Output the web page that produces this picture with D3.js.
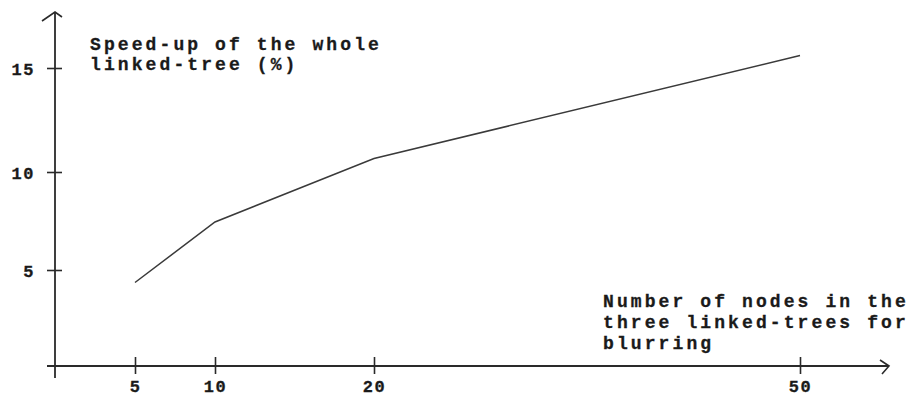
<!DOCTYPE html>
<html>
<head>
<meta charset="utf-8">
<script src="https://cdn.jsdelivr.net/npm/d3@7/dist/d3.min.js"></script>
<style>
  html, body { margin: 0; padding: 0; background: #fff; }
  svg { display: block; }
  text { font-family: "Liberation Mono", "DejaVu Sans Mono", monospace; font-weight: bold; fill: #1a1a1a; }
</style>
</head>
<body>
<svg id="chart" width="916" height="397"></svg>
<script>
// ---- data ----
const nodes = [5, 10, 20, 50];
const speedup = [4.35, 7.45, 10.65, 15.6];
const xTicks = [5, 10, 20, 50];
const yTicks = [5, 10, 15];
const yTitle = ["Speed-up of the whole", "linked-tree (%)"];
const xTitle = ["Number of nodes in the", "three linked-trees for", "blurring"];

const svg = d3.select("#chart");

// non-uniform scales as in the original hand-drawn figure
const x = d3.scaleLinear().domain([0, 5, 10, 20, 50]).range([55, 135, 215, 374, 800]);
const y = d3.scaleLinear().domain([0, 5, 10, 15]).range([366, 270, 172, 68]);

const ink = "#2a2a2a";

// axis lines
svg.append("line").attr("x1", 55).attr("x2", 55).attr("y1", 12).attr("y2", 378)
  .attr("stroke", ink).attr("stroke-width", 1.8);
svg.append("line").attr("x1", 47).attr("x2", 888).attr("y1", 366).attr("y2", 366)
  .attr("stroke", ink).attr("stroke-width", 1.8);
// arrow heads
svg.append("polyline").attr("points", "42,21 55,12 62,17").attr("fill", "none")
  .attr("stroke", ink).attr("stroke-width", 1.6);
svg.append("polyline").attr("points", "880,360 889,366 882,374").attr("fill", "none")
  .attr("stroke", ink).attr("stroke-width", 1.6);

// x axis ticks + labels
const gx = svg.append("g").attr("transform", "translate(0,366)")
  .call(d3.axisBottom(x).tickValues(xTicks).tickSize(8).tickPadding(0));
gx.select(".domain").remove();
gx.selectAll(".tick line").attr("y1", -9).attr("y2", 8).attr("stroke", ink).attr("stroke-width", 1.6);
gx.selectAll(".tick text").attr("y", 26).attr("dy", 0)
  .style("font-size", "17px").style("letter-spacing", "1.5px")
  .attr("fill", "#1a1a1a").attr("stroke", "#1a1a1a").attr("stroke-width", 0.3);

// y axis ticks + labels
const gy = svg.append("g").attr("transform", "translate(55,0)")
  .call(d3.axisLeft(y).tickValues(yTicks).tickSize(8));
gy.select(".domain").remove();
gy.selectAll(".tick line").attr("x1", -8).attr("x2", 7).attr("stroke", ink).attr("stroke-width", 1.6);
gy.selectAll(".tick text").attr("x", -20).attr("dy", "0.36em")
  .style("font-size", "17px").style("letter-spacing", "1.5px")
  .attr("fill", "#1a1a1a").attr("stroke", "#1a1a1a").attr("stroke-width", 0.3);

// data line
const line = d3.line().x((d, i) => x(nodes[i])).y(d => y(d));
svg.append("path").datum(speedup).attr("d", line)
  .attr("fill", "none").attr("stroke", "#3a3a3a").attr("stroke-width", 1.5);

// axis titles
svg.append("g").selectAll("text").data(yTitle).join("text")
  .attr("x", 90).attr("y", (d, i) => 50 + i * 20)
  .style("font-size", "18px").style("letter-spacing", "3.1px")
  .attr("stroke", "#1a1a1a").attr("stroke-width", 0.3)
  .text(d => d);
svg.append("g").selectAll("text").data(xTitle).join("text")
  .attr("x", 603).attr("y", (d, i) => 307 + i * 21)
  .style("font-size", "18px").style("letter-spacing", "3.1px")
  .attr("stroke", "#1a1a1a").attr("stroke-width", 0.3)
  .text(d => d);
</script>
</body>
</html>
